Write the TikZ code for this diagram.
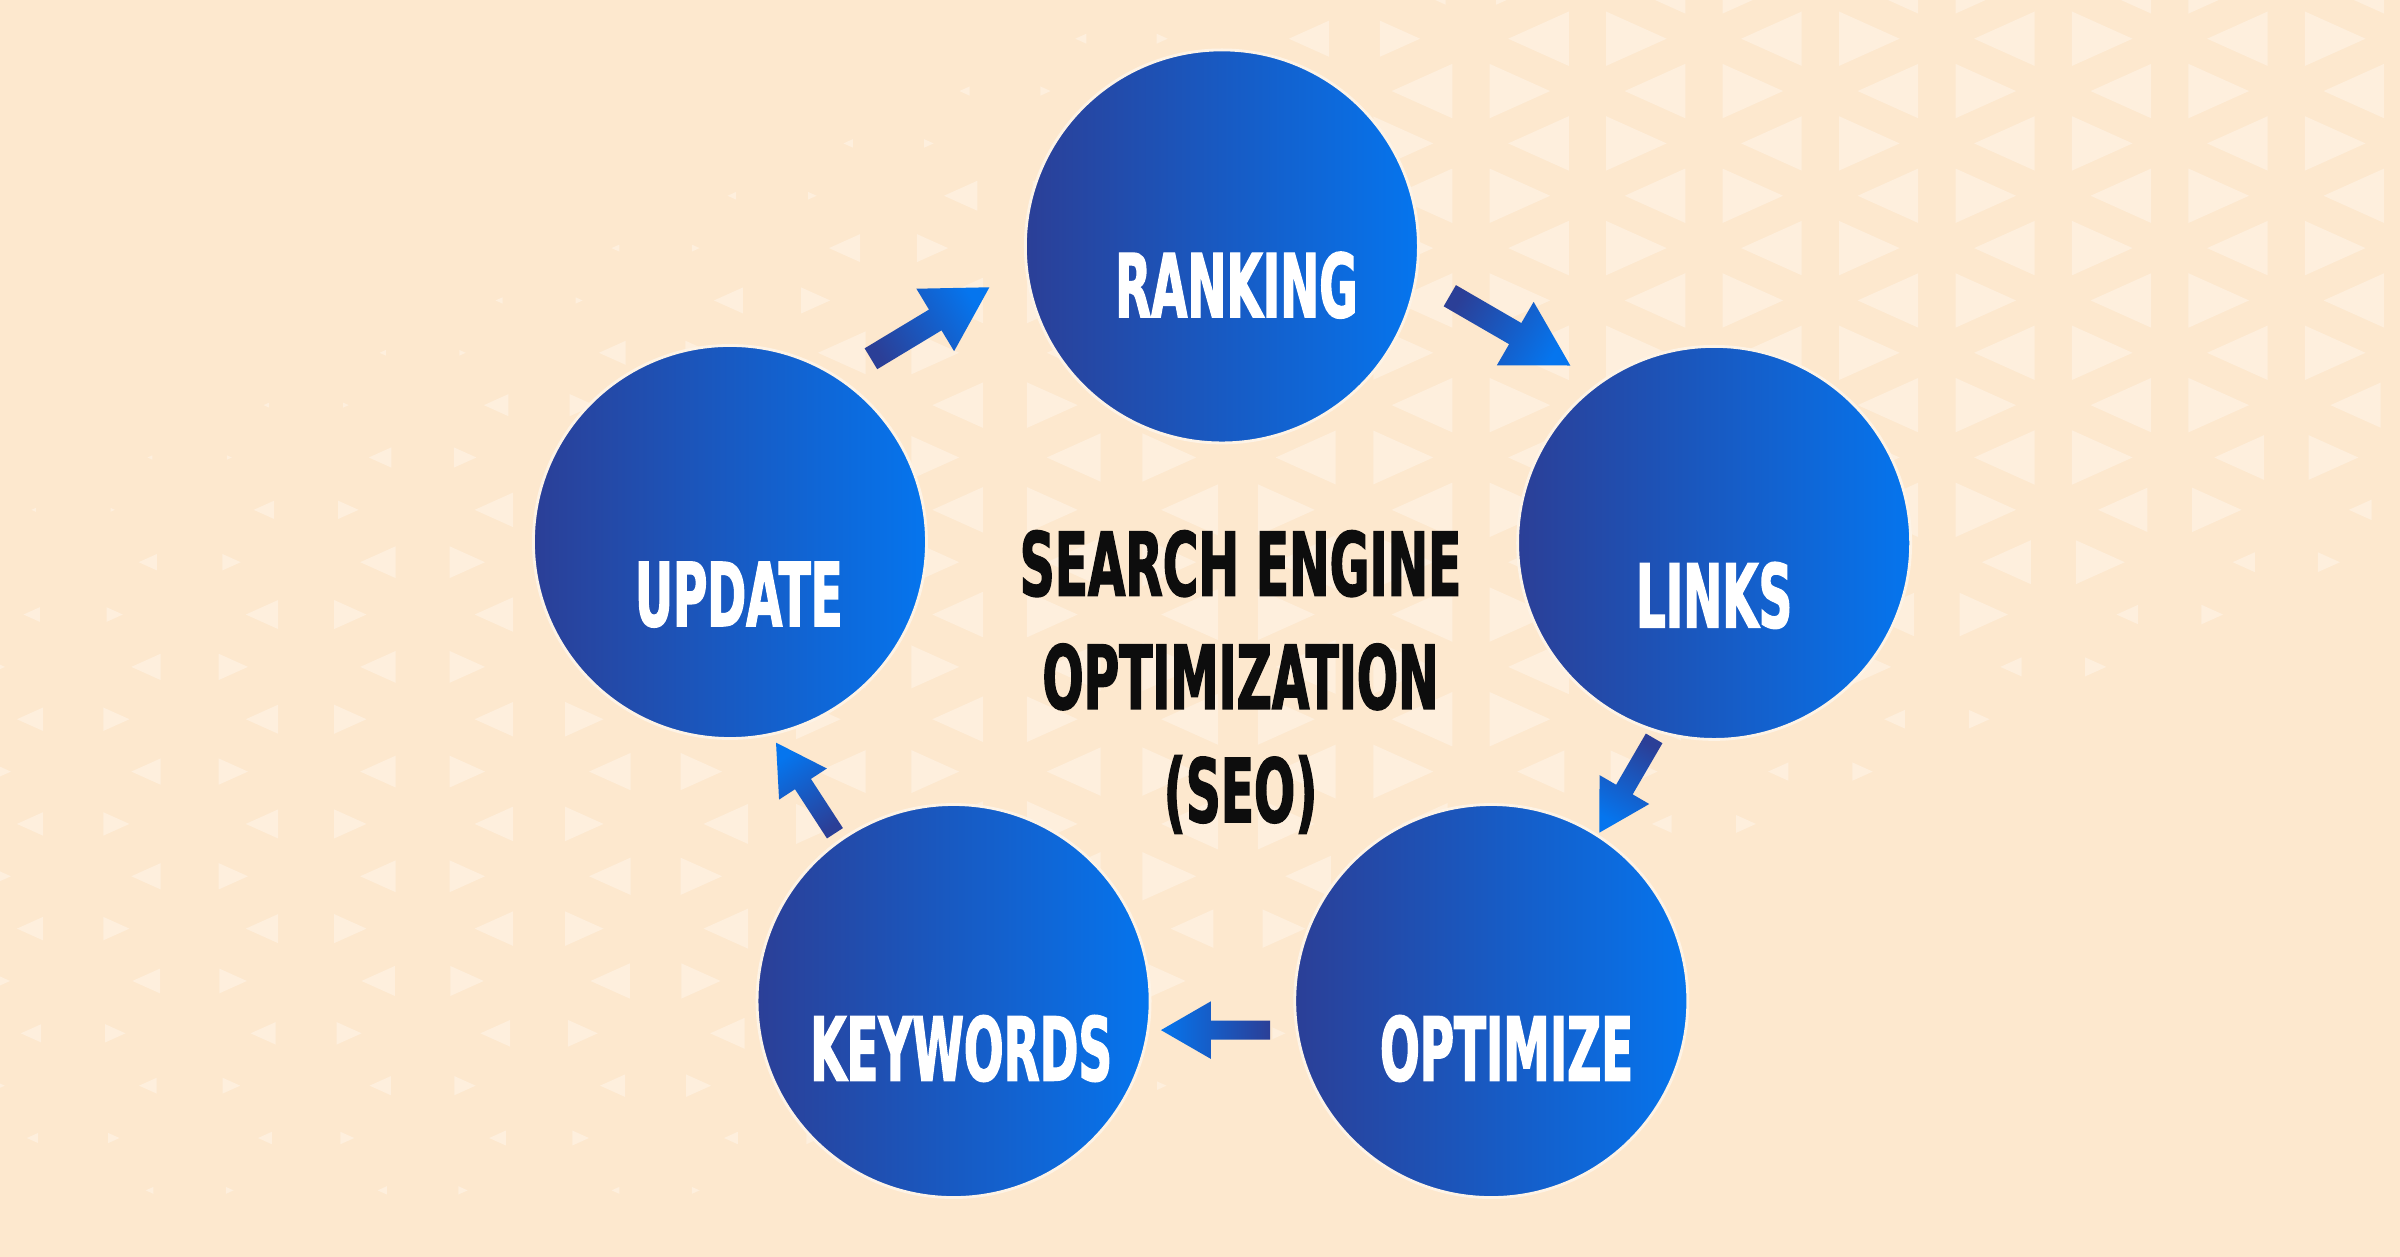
\documentclass[tikz,border=0pt]{standalone}
\usepackage{fontspec}
\usepackage{tikz}
\usetikzlibrary{calc}

\newfontfamily\seofont[FakeStretch=0.53, FakeBold=1.5]{DejaVu Sans}
\newfontfamily\seotitlefont[FakeStretch=0.55, FakeBold=1.5]{DejaVu Sans}

\definecolor{bgcream}{HTML}{FDE8CE}
\definecolor{tricream}{HTML}{FEEFDD}
\definecolor{bluedark}{HTML}{2B3F97}
\definecolor{bluelight}{HTML}{0575EE}
\definecolor{ringcol}{HTML}{FDF3E6}
\definecolor{titleblack}{HTML}{0D0D0D}

\tikzset{
  stage/.style={circle, minimum size=3.93cm, inner sep=0pt, draw=ringcol, line width=0.8pt,
    left color=bluedark, right color=bluelight},
  stagetext/.style={anchor=base, inner sep=0pt, text=white,
    font=\seofont\bfseries\fontsize{25.1}{30}\selectfont},
  title/.style={align=center, inner sep=0pt, text=titleblack,
    font=\seotitlefont\bfseries\fontsize{25.1}{32.2}\selectfont},
  flow/.style={left color=bluedark, right color=bluelight},
  tri/.style={fill=tricream},
}

% flecha gruesa de #1 a #2, angulo del degradado #3
\newcommand{\flowarrow}[3]{%
  \coordinate (#1-q) at ($(#1)!0.543!(#2)$);
  \shade[flow, shading angle=#3] ($(#1)!0.088!90:(#2)$) -- ($(#1-q)!0.192!90:(#2)$)
    -- ($(#1-q)!0.577!90:(#2)$) -- (#2) -- ($(#1-q)!0.577!-90:(#2)$)
    -- ($(#1-q)!0.192!-90:(#2)$) -- ($(#1)!0.088!-90:(#2)$) -- cycle;
}

\begin{document}
\begin{tikzpicture}[x=0.015306cm, y=-0.015306cm]
    % Fondo
    \useasboundingbox (0,0) rectangle (1568,821);
    \fill[bgcream] (0,0) rectangle (1568,821);
    \foreach \k in {-1,...,21}{
      \foreach \j in {0,...,25}{
        \pgfmathtruncatemacro{\todd}{mod(\k+\j+2,2)}
        \ifnum\todd=0
          \pgfmathsetmacro{\tx}{47.8+76.1*\k}
          \pgfmathsetmacro{\ty}{-8.9+34.2*\j}
          \pgfmathsetmacro{\tu}{(\ty-330+0.458*\tx)/150}
          \pgfmathsetmacro{\tv}{(390+0.434*(1568-\tx)-\ty)/150}
          \pgfmathsetmacro{\ts}{0.52*max(0,min(1,min(\tu,\tv)))*min(1,0.4+0.6*\tx/900)*max(0,min(1,(830-\ty)/200))}
          \ifdim\ts pt>0.03pt
            \fill[tri] (\tx+25.37-25.37*\ts,\ty-34.2*\ts) -- (\tx+25.37-25.37*\ts,\ty+34.2*\ts) -- (\tx+25.37+50.73*\ts,\ty) -- cycle;
            \fill[tri] (\tx-25.37+25.37*\ts,\ty-34.2*\ts) -- (\tx-25.37+25.37*\ts,\ty+34.2*\ts) -- (\tx-25.37-50.73*\ts,\ty) -- cycle;
          \fi
        \fi
      }
    }

    % Nodos
    \node[stage] (rank) at (798.3,161) {};
    \node[stage] (links) at (1119.9,354.7) {};
    \node[stage] (opt) at (974.3,654) {};
    \node[stage] (key) at (623,654) {};
    \node[stage] (upd) at (476.9,354.1) {};

    \node[stagetext] (rank-t) at ([shift={(9.5,46.3)}]rank.center) {RANKING};
    \node[stagetext] (links-t) at ([shift={(0,55.3)}]links.center) {LINKS};
    \node[stagetext] (opt-t) at ([shift={(10,52)}]opt.center) {OPTIMIZE};
    \node[stagetext] (key-t) at ([shift={(5,52)}]key.center) {KEYWORDS};
    \node[stagetext] (upd-t) at ([shift={(5.8,55)}]upd.center) {UPDATE};

    \node[title, anchor=north] (seo) at (810.5,346) {SEARCH ENGINE\\OPTIMIZATION\\(SEO)};

    % Flechas
    \coordinate (a1s) at ([shift={(92.1,-119.7)}]upd.center);
    \coordinate (a1e) at ([shift={(-151.9,26.7)}]rank.center);
    \coordinate (a2s) at ([shift={(148.9,32.2)}]rank.center);
    \coordinate (a2e) at ([shift={(-94,-115.9)}]links.center);
    \coordinate (a3s) at ([shift={(-39.2,127.7)}]links.center);
    \coordinate (a3e) at ([shift={(70.6,-110)}]opt.center);
    \coordinate (a4s) at ([shift={(-144.5,19)}]opt.center);
    \coordinate (a4e) at ([shift={(135.5,19)}]key.center);
    \coordinate (a5s) at ([shift={(-77.5,-109.6)}]key.center);
    \coordinate (a5e) at ([shift={(30.1,131.1)}]upd.center);

    \flowarrow{a1s}{a1e}{121}
    \flowarrow{a2s}{a2e}{60}
    \flowarrow{a3s}{a3e}{-30}
    \flowarrow{a4s}{a4e}{270}
    \flowarrow{a5s}{a5e}{213}
\end{tikzpicture}
\end{document}
